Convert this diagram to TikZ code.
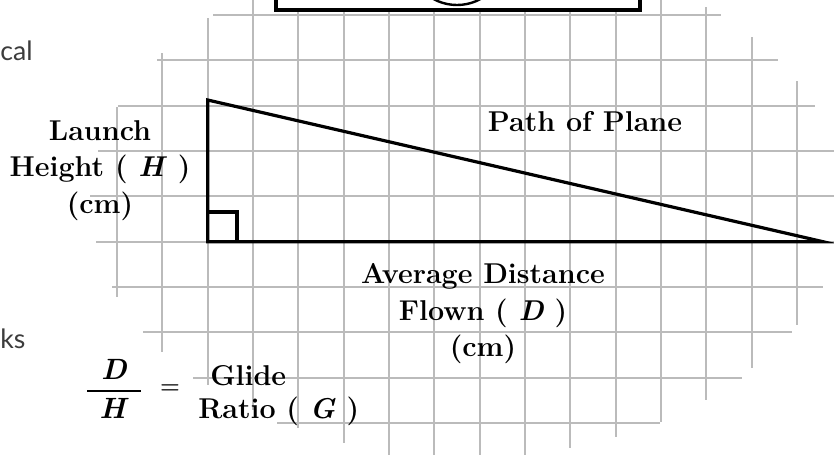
\documentclass[tikz,border=0pt]{standalone}
\usepackage{amsmath}
\usepackage{fontspec}
\newfontfamily\sidefont{Lato}
\definecolor{gridgray}{RGB}{187,187,187}
\definecolor{sidegray}{RGB}{60,60,60}

\begin{document}
\begin{tikzpicture}[
            x = 0.75pt,
            y = -0.75pt,
            gridline/.style = {draw = gridgray, line width = 1.5pt},
            heavy/.style = {draw = black, line width = 2.4pt},
            hand/.style = {inner sep = 0pt, align = center, font = {\fontsize{21.5}{27.5}\selectfont\bfseries}},
            side/.style = {inner sep = 0pt, text = sidegray, font = {\sidefont\fontsize{20}{24}\selectfont}}
        ]
            \clip (0,0) rectangle (834,454);
            % grid, rows
            \draw[gridline] (213,15) -- (721,15);
            \draw[gridline] (157,60.3) -- (778,60.3);
            \draw[gridline] (118,105.7) -- (815,105.7);
            \draw[gridline] (98,151) -- (840,151);
            \draw[gridline] (90,196.3) -- (840,196.3);
            \draw[gridline] (96,241.7) -- (840,241.7);
            \draw[gridline] (112,287) -- (823,287);
            \draw[gridline] (143,332.3) -- (792,332.3);
            \draw[gridline] (193,377.7) -- (742,377.7);
            \draw[gridline] (277,423) -- (660,423);
            % grid, columns
            \draw[gridline] (117,107) -- (117,297);
            \draw[gridline] (162.3,53) -- (162.3,352);
            \draw[gridline] (207.7,18) -- (207.7,385);
            \draw[gridline] (253,-5) -- (253,410);
            \draw[gridline] (298.3,-5) -- (298.3,428);
            \draw[gridline] (343.7,-5) -- (343.7,443);
            \draw[gridline] (389,-5) -- (389,460);
            \draw[gridline] (434.3,-5) -- (434.3,460);
            \draw[gridline] (479.7,-5) -- (479.7,460);
            \draw[gridline] (525,-5) -- (525,460);
            \draw[gridline] (570.3,-5) -- (570.3,448);
            \draw[gridline] (615.7,-5) -- (615.7,437);
            \draw[gridline] (661,-5) -- (661,422);
            \draw[gridline] (706.3,7) -- (706.3,400);
            \draw[gridline] (751.7,37) -- (751.7,368);
            \draw[gridline] (797,81) -- (797,325);

            % box at the top
            \filldraw[
                fill = white,
                heavy
            ]
            (276,-30) rectangle (640,10);
            \draw[line width = 1.8pt] (457,-44) circle (49);

            % the triangle
            \coordinate (top) at (207.7,100);
            \coordinate (corner) at (207.7,241.7);
            \coordinate (tip) at (823,241.7);
            \draw[heavy] (top) -- (corner) -- (tip) -- cycle;
            \draw[heavy] (207.7,212) -- (237,212) -- (237,241.7);

            % labels
            \node[hand, anchor = north] (launch) at (100,120) {Launch\\Height ( \textit{H} )\\(cm)};
            \node[hand, anchor = base] (path) at (585,131) {Path of Plane};
            \node[hand, anchor = north] (distance) at (483,263) {Average Distance\\Flown ( \textit{D} )\\(cm)};
            \node[inner sep = 0pt, font = {\fontsize{22}{26}\selectfont\bfseries}] (ratio) at (114,389)
                {$\genfrac{}{}{1.5pt}{0}{\makebox[40pt]{\textit{D}}}{\makebox[40pt]{\textit{H}}}$};
            \node[inner sep = 0pt, font = {\fontsize{17}{20}\selectfont\bfseries}] (equals) at (170,389) {=};
            \node[hand, align = left, anchor = north west, font = {\fontsize{21.5}{25}\selectfont\bfseries}] (glide) at (198,365)
                {\hspace*{9pt}Glide\\Ratio ( \textit{G} )};
            \node[side, anchor = base west] (cal) at (0,60) {cal};
            \node[side, anchor = base west] (ks) at (0,348) {ks};
        \end{tikzpicture}
\end{document}
